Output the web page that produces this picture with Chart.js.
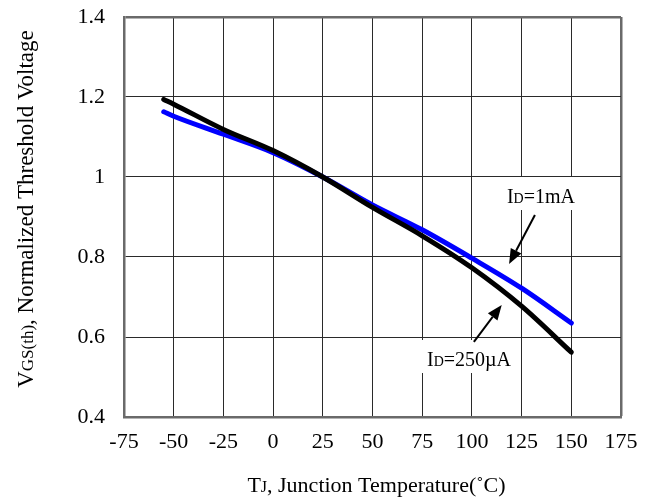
<!DOCTYPE html>
<html>
<head>
<meta charset="utf-8">
<script src="https://cdn.jsdelivr.net/npm/chart.js@4.4.1/dist/chart.umd.min.js"></script>
<style>
  html, body { margin: 0; padding: 0; background: #fff; }
  #wrap { width: 653px; height: 499px; }
</style>
</head>
<body>
<div id="wrap"><canvas id="vthChart" width="653" height="499"></canvas></div>
<script>
// ── data ──
const temps    = [-55, -50, -25, 0, 25, 50, 75, 100, 125, 150];
const vth250uA = [1.194, 1.182, 1.119, 1.066, 1.0, 0.924, 0.853, 0.773, 0.677, 0.562];
const vth1mA   = [1.163, 1.152, 1.107, 1.061, 1.0, 0.930, 0.868, 0.797, 0.722, 0.635];
const xTicks   = [-75, -50, -25, 0, 25, 50, 75, 100, 125, 150, 175];
const yTicks   = [0.4, 0.6, 0.8, 1, 1.2, 1.4];
const yTickLabels = ['0.4', '0.6', '0.8', '1', '1.2', '1.4'];

const serif = "'Liberation Serif','Times New Roman',serif";
const gridCol = '#2a2a2a';
const edgeCol = '#6a6a6a';

// mixed-size text, [text, size] pairs
function richWidth(ctx, parts) {
  let w = 0;
  parts.forEach(([t, s]) => { ctx.font = s + 'px ' + serif; w += ctx.measureText(t).width; });
  return w;
}
function drawRich(ctx, parts, x, y) {
  parts.forEach(([t, s]) => {
    ctx.font = s + 'px ' + serif;
    ctx.fillText(t, x, y);
    x += ctx.measureText(t).width;
  });
}

const notes = [
  { parts: [['I', 20], ['D', 14], ['=1mA', 20]], x: 117.6, y: 0.935, from: [131.7, 0.905], to: [118.7, 0.7825] },
  { parts: [['I', 20], ['D', 14], ['=250\u00b5A', 20]], x: 77.4, y: 0.5275, from: [101, 0.588], to: [115, 0.68] }
];

const overlay = {
  id: 'overlay',
  afterDatasetsDraw(chart) {
    const ctx = chart.ctx;
    const sx = chart.scales.x, sy = chart.scales.y;
    ctx.save();
    ctx.fillStyle = '#000';
    ctx.textAlign = 'left';
    ctx.textBaseline = 'alphabetic';

    notes.forEach(n => {
      const tx = sx.getPixelForValue(n.x), ty = sy.getPixelForValue(n.y);
      const w = richWidth(ctx, n.parts);
      ctx.fillStyle = '#fff';
      ctx.fillRect(tx - 6, ty - 26, w + 11, 33);
      ctx.fillStyle = '#000';
      drawRich(ctx, n.parts, tx, ty);

      const x0 = sx.getPixelForValue(n.from[0]), y0 = sy.getPixelForValue(n.from[1]);
      const x1 = sx.getPixelForValue(n.to[0]),   y1 = sy.getPixelForValue(n.to[1]);
      const a = Math.atan2(y1 - y0, x1 - x0);
      const hl = 15, hw = 6;
      ctx.strokeStyle = '#000'; ctx.lineWidth = 2;
      ctx.beginPath();
      ctx.moveTo(x0, y0);
      ctx.lineTo(x1 - hl * Math.cos(a), y1 - hl * Math.sin(a));
      ctx.stroke();
      ctx.beginPath();
      ctx.moveTo(x1, y1);
      ctx.lineTo(x1 - hl * Math.cos(a) + hw * Math.sin(a), y1 - hl * Math.sin(a) - hw * Math.cos(a));
      ctx.lineTo(x1 - hl * Math.cos(a) - hw * Math.sin(a), y1 - hl * Math.sin(a) + hw * Math.cos(a));
      ctx.closePath();
      ctx.fill();
    });

    // axis titles
    const xt = [['T', 22], ['J', 16], [', Junction Temperature(\u02da', 22], ['C)', 22]];
    const xw = richWidth(ctx, xt);
    drawRich(ctx, xt, (chart.chartArea.left + chart.chartArea.right) / 2 - xw / 2 + 4, 492);

    const yt = [['V', 23], ['GS(th)', 17], [', Normalized Threshold Voltage', 23]];
    const yw = richWidth(ctx, yt);
    ctx.translate(33, 209);
    ctx.rotate(-Math.PI / 2);
    drawRich(ctx, yt, -yw / 2, 0);
    ctx.restore();
  }
};

new Chart(document.getElementById('vthChart'), {
  type: 'line',
  data: {
    datasets: [
      {
        label: 'ID=250\u00b5A',
        data: temps.map((t, i) => ({ x: t, y: vth250uA[i] })),
        borderColor: '#000', borderWidth: 5, pointRadius: 0,
        cubicInterpolationMode: 'monotone', borderCapStyle: 'round', fill: false
      },
      {
        label: 'ID=1mA',
        data: temps.map((t, i) => ({ x: t, y: vth1mA[i] })),
        borderColor: '#0000ff', borderWidth: 5, pointRadius: 0,
        cubicInterpolationMode: 'monotone', borderCapStyle: 'round', fill: false
      }
    ]
  },
  options: {
    responsive: false, animation: false,
    layout: { padding: { left: 0, right: 32, top: 17, bottom: 0 } },
    plugins: { legend: { display: false }, tooltip: { enabled: false } },
    scales: {
      x: {
        type: 'linear', min: xTicks[0], max: xTicks[xTicks.length - 1],
        afterBuildTicks: s => { s.ticks = xTicks.map(v => ({ value: v })); },
        afterFit: s => { s.height = 82; s.paddingLeft = 0; s.paddingRight = 0; },
        ticks: { font: { family: serif, size: 22 }, color: '#000', padding: 12, maxRotation: 0, autoSkip: false },
        grid: {
          drawTicks: false,
          color: c => (c.tick && c.tick.value === 175) ? edgeCol : gridCol,
          lineWidth: c => (c.tick && c.tick.value === 175) ? 2.5 : 1
        },
        border: { display: true, color: edgeCol, width: 2.5 }
      },
      y: {
        min: yTicks[0], max: yTicks[yTicks.length - 1],
        afterBuildTicks: s => { s.ticks = yTicks.map(v => ({ value: v })); },
        afterFit: s => { s.width = 124; s.paddingTop = 0; s.paddingBottom = 0; },
        ticks: {
          font: { family: serif, size: 22 }, color: '#000', padding: 19, autoSkip: false,
          callback: v => yTickLabels[yTicks.findIndex(t => Math.abs(t - v) < 1e-6)]
        },
        grid: {
          drawTicks: false,
          color: c => (c.tick && c.tick.value === 1.4) ? edgeCol : gridCol,
          lineWidth: c => (c.tick && c.tick.value === 1.4) ? 2.5 : 1
        },
        border: { display: true, color: edgeCol, width: 2.5 }
      }
    }
  },
  plugins: [overlay]
});
</script>
</body>
</html>
